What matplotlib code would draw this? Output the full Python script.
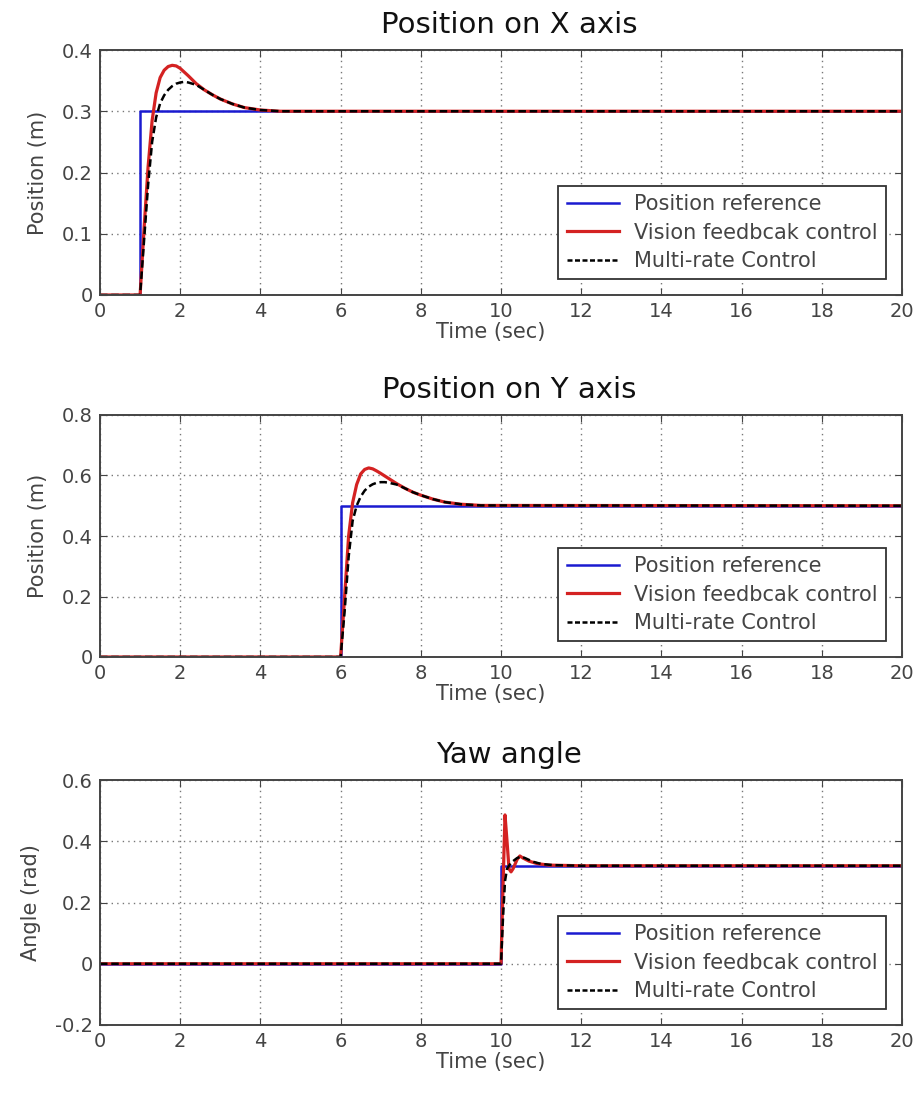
import matplotlib
matplotlib.use("Agg")
import matplotlib.pyplot as plt
from matplotlib.lines import Line2D

plt.rcParams['font.family'] = ['DejaVu Sans']

# ---- Position on X axis ----
x_ref_t = [0, 1.0, 1.0, 20]
x_ref_v = [0, 0, 0.3, 0.3]
x_vis_t = [0, 1.0, 1.1, 1.2, 1.3, 1.4, 1.5, 1.6, 1.7, 1.8, 1.9, 2.0, 2.2, 2.4,
           2.6, 2.8, 3.0, 3.3, 3.6, 4.0, 4.5, 20]
x_vis_v = [0, 0, 0.11, 0.21, 0.285, 0.33, 0.355, 0.367, 0.373, 0.375, 0.374,
           0.370, 0.358, 0.345, 0.335, 0.327, 0.320, 0.312, 0.306, 0.302, 0.300, 0.300]
x_mr_t = [0, 1.0, 1.1, 1.2, 1.3, 1.4, 1.5, 1.6, 1.7, 1.8, 1.9, 2.0, 2.1, 2.2,
          2.4, 2.6, 2.8, 3.0, 3.3, 3.6, 4.0, 4.5, 20]
x_mr_v = [0, 0, 0.09, 0.18, 0.25, 0.29, 0.313, 0.326, 0.335, 0.341, 0.345, 0.347,
          0.348, 0.347, 0.343, 0.335, 0.327, 0.320, 0.312, 0.306, 0.302, 0.300, 0.300]

# ---- Position on Y axis ----
y_ref_t = [0, 6.0, 6.0, 20]
y_ref_v = [0, 0, 0.5, 0.5]
y_vis_t = [0, 6.0, 6.1, 6.2, 6.3, 6.4, 6.5, 6.6, 6.7, 6.8, 6.9, 7.0, 7.2, 7.4,
           7.6, 7.8, 8.0, 8.3, 8.6, 9.0, 9.5, 20]
y_vis_v = [0, 0, 0.20, 0.40, 0.51, 0.57, 0.605, 0.620, 0.625, 0.622, 0.615,
           0.607, 0.590, 0.573, 0.558, 0.545, 0.535, 0.522, 0.512, 0.505, 0.501, 0.500]
y_mr_t = [0, 6.0, 6.1, 6.2, 6.3, 6.4, 6.5, 6.6, 6.7, 6.8, 6.9, 7.0, 7.1, 7.2,
          7.4, 7.6, 7.8, 8.0, 8.3, 8.6, 9.0, 9.5, 20]
y_mr_v = [0, 0, 0.15, 0.33, 0.45, 0.50, 0.53, 0.55, 0.563, 0.571, 0.576, 0.578,
          0.578, 0.576, 0.570, 0.558, 0.545, 0.535, 0.522, 0.512, 0.505, 0.501, 0.500]

# ---- Yaw angle ----
a_ref_t = [0, 10.0, 10.0, 20]
a_ref_v = [0, 0, 0.32, 0.32]
a_vis_t = [0, 10.0, 10.05, 10.1, 10.15, 10.2, 10.25, 10.3, 10.4, 10.47, 10.55,
           10.7, 10.9, 11.2, 12.0, 20]
a_vis_v = [0, 0, 0.25, 0.486, 0.40, 0.31, 0.30, 0.31, 0.34, 0.352, 0.345,
           0.335, 0.327, 0.322, 0.320, 0.320]
a_mr_t = [0, 10.0, 10.05, 10.1, 10.15, 10.25, 10.4, 10.5, 10.6, 10.8, 11.0,
          11.3, 12.0, 20]
a_mr_v = [0, 0, 0.15, 0.27, 0.31, 0.33, 0.345, 0.350, 0.345, 0.333, 0.326,
          0.322, 0.320, 0.320]

titles = ["Position on X axis", "Position on Y axis", "Yaw angle"]
ylabels = ["Position (m)", "Position (m)", "Angle (rad)"]
ylims = [(0, 0.4), (0, 0.8), (-0.2, 0.6)]
yticks = [[0, 0.1, 0.2, 0.3, 0.4], [0, 0.2, 0.4, 0.6, 0.8],
          [-0.2, 0, 0.2, 0.4, 0.6]]
yticklabels = [["0", "0.1", "0.2", "0.3", "0.4"],
               ["0", "0.2", "0.4", "0.6", "0.8"],
               ["-0.2", "0", "0.2", "0.4", "0.6"]]
xticks = list(range(0, 21, 2))
legend_labels = ["Position reference", "Vision feedbcak control",
                 "Multi-rate Control"]

series = [
    (x_ref_t, x_ref_v, x_vis_t, x_vis_v, x_mr_t, x_mr_v),
    (y_ref_t, y_ref_v, y_vis_t, y_vis_v, y_mr_t, y_mr_v),
    (a_ref_t, a_ref_v, a_vis_t, a_vis_v, a_mr_t, a_mr_v),
]

W, H = 918, 1096
fig = plt.figure(figsize=(W / 100, H / 100), dpi=100)
fig.patch.set_facecolor("white")

# panel boxes in pixels: left, top, right, bottom
boxes = [(100, 50, 902, 295), (100, 415, 902, 657), (100, 780, 902, 1025)]

BLUE = "#1a1ad0"
RED = "#d42222"
txt = "#444444"
for i, (l, t, r, b) in enumerate(boxes):
    ax = fig.add_axes([l / W, 1 - b / H, (r - l) / W, (b - t) / H])
    rt, rv, vt, vv, mt, mv = series[i]
    ax.plot(rt, rv, color=BLUE, lw=1.8)
    ax.plot(vt, vv, color=RED, lw=2.3)
    ax.plot(mt, mv, color="black", lw=1.8, ls=(0, (3, 1.5)))
    ax.set_xlim(0, 20)
    ax.set_ylim(*ylims[i])
    ax.set_xticks(xticks)
    ax.set_yticks(yticks[i])
    ax.set_yticklabels(yticklabels[i])
    ax.grid(True, ls=(0, (1, 3)), color="#777777", lw=1.0)
    ax.tick_params(direction="in", top=True, right=True, length=5,
                   labelsize=14, labelcolor=txt, color="#444444", pad=5)
    for s in ax.spines.values():
        s.set_color("#444444")
        s.set_linewidth(1.4)
    ax.set_title(titles[i], fontsize=21, color="#111111", pad=12, x=0.51)
    ax.set_xlabel("Time (sec)", fontsize=15, color=txt, labelpad=1, x=0.487)
    ax.set_ylabel(ylabels[i], fontsize=15, color=txt, labelpad=10)
    handles = [Line2D([], [], color=BLUE, lw=1.8),
               Line2D([], [], color=RED, lw=2.3),
               Line2D([], [], color="black", lw=1.8, ls=(0, (2, 1)))]
    leg = ax.legend(handles, legend_labels, loc="lower right", fontsize=15,
                    frameon=True, fancybox=False, framealpha=1,
                    edgecolor="#333333", borderaxespad=0.75, handlelength=2.5,
                    labelspacing=0.4, borderpad=0.4, handletextpad=0.75)
    leg.get_frame().set_linewidth(1.3)
    for tx in leg.get_texts():
        tx.set_color(txt)

fig.savefig("out.png", dpi=100, facecolor="white")
